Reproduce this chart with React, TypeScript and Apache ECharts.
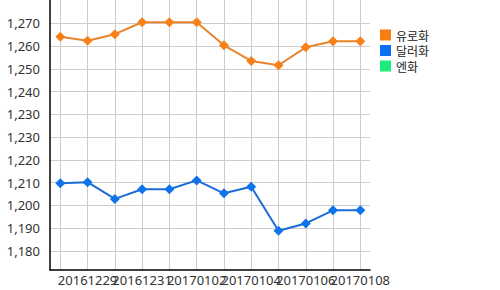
import React, { useEffect, useRef } from "react";
import * as echarts from "echarts";

const categories = [
  "20161228", "20161229", "20161230", "20161231", "20170101", "20170102",
  "20170103", "20170104", "20170105", "20170106", "20170107", "20170108",
];
const euroValues = [1265.2, 1263.6, 1266.2, 1270.9, 1270.9, 1270.9, 1261.8, 1255.6, 1253.9, 1261.0, 1263.4, 1263.4];
const dollarValues = [1207.3, 1207.7, 1201.1, 1204.9, 1204.9, 1208.4, 1203.3, 1205.9, 1188.5, 1191.4, 1196.6, 1196.6];
const yenValues: number[] = [];
const seriesNames = ["유로화", "달러화", "엔화"];
const yTickValues = [1180.5, 1189.5, 1198.5, 1207.5, 1216.5, 1225.5, 1234.5, 1243.5, 1252.5, 1261.5, 1270.5];
const yTickLabels = ["1,180", "1,190", "1,200", "1,210", "1,220", "1,230", "1,230", "1,240", "1,250", "1,260", "1,270"];
const Y_MIN = 1173;
const Y_MAX = 1279.7;

const FONT = "'Noto Sans', 'Noto Sans CJK KR', sans-serif";

export default function App() {
  const ref = useRef<HTMLDivElement>(null);
  useEffect(() => {
    if (!ref.current) return;
    const chart = echarts.init(ref.current, null, { renderer: "svg" });
    const catLabel = (keep: (i: number) => boolean) => ({
      interval: (index: number) => keep(index),
      fontSize: 13,
      color: "#333",
      fontFamily: FONT,
      margin: 3,
    });
    chart.setOption({
      animation: false,
      backgroundColor: "#ffffff",
      grid: [
        { left: 50, right: 130, top: 0, bottom: 20, containLabel: false },
        { left: 60.3, right: 139.7, top: 0, bottom: 20, containLabel: false },
      ],
      legend: {
        orient: "vertical",
        left: 380,
        top: 28,
        padding: 0,
        icon: "rect",
        itemWidth: 11,
        itemHeight: 11,
        itemGap: 1.5,
        textStyle: { fontSize: 12, lineHeight: 14, color: "#222", fontFamily: "'Noto Sans CJK KR', sans-serif" },
        data: [
          { name: seriesNames[0], itemStyle: { color: "#FA7D14" } },
          { name: seriesNames[1], itemStyle: { color: "#0B6FF2" } },
          { name: seriesNames[2], itemStyle: { color: "#1DEB7B" } },
        ],
      },
      xAxis: [
        {
          gridIndex: 0,
          type: "value",
          min: 0,
          max: 1,
          axisLine: { show: true, onZero: false, lineStyle: { color: "#000", width: 1.5 } },
          axisTick: { show: false },
          axisLabel: { show: false },
          splitLine: { show: false },
        },
        {
          gridIndex: 1,
          type: "category",
          position: "bottom",
          data: categories,
          boundaryGap: false,
          axisLine: { show: false, onZero: false },
          axisTick: { show: false },
          axisLabel: catLabel((i) => i % 4 === 1),
          splitLine: { show: true, interval: 0, lineStyle: { color: "#cccccc", width: 1 } },
        },
        {
          gridIndex: 1,
          type: "category",
          position: "bottom",
          offset: 0,
          data: categories,
          boundaryGap: false,
          axisLine: { show: false, onZero: false },
          axisTick: { show: false },
          axisLabel: catLabel((i) => i % 4 === 3),
          splitLine: { show: false },
        },
      ],
      yAxis: [
        {
          gridIndex: 0,
          type: "value",
          min: Y_MIN,
          max: Y_MAX,
          axisLine: { show: true, onZero: false, lineStyle: { color: "#000", width: 1.5 } },
          axisTick: { show: false, customValues: yTickValues },
          axisLabel: {
            customValues: yTickValues,
            formatter: (v: number) => {
              const idx = yTickValues.findIndex((t) => Math.abs(t - v) < 0.01);
              return idx >= 0 ? yTickLabels[idx] : "";
            },
            fontSize: 13,
            color: "#333",
            fontFamily: FONT,
            margin: 10,
            showMinLabel: true,
            showMaxLabel: true,
          },
          splitLine: { show: true, lineStyle: { color: "#cccccc", width: 1 } },
        },
        {
          gridIndex: 1,
          type: "value",
          min: Y_MIN,
          max: Y_MAX,
          show: false,
          splitLine: { show: false },
        },
      ],
      series: [
        {
          name: seriesNames[0],
          type: "line",
          xAxisIndex: 1,
          yAxisIndex: 1,
          data: euroValues,
          symbol: "diamond",
          symbolSize: 10,
          lineStyle: { color: "#E8842C", width: 2 },
          itemStyle: { color: "#F7801A" },
        },
        {
          name: seriesNames[1],
          type: "line",
          xAxisIndex: 1,
          yAxisIndex: 1,
          data: dollarValues,
          symbol: "diamond",
          symbolSize: 10,
          lineStyle: { color: "#1B6CD6", width: 2 },
          itemStyle: { color: "#0F74EC" },
        },
        {
          name: seriesNames[2],
          type: "line",
          xAxisIndex: 1,
          yAxisIndex: 1,
          data: yenValues,
          symbol: "diamond",
          symbolSize: 10,
          itemStyle: { color: "#1DEB7B" },
        },
      ],
    });
    return () => chart.dispose();
  }, []);
  return (
    <div
      ref={ref}
      style={{ position: "fixed", left: 0, top: 0, width: 500, height: 290 }}
    />
  );
}
